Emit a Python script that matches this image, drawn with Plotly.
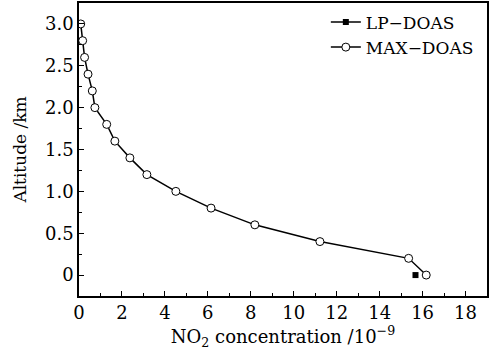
import plotly.graph_objects as go

max_x = [16.17, 15.35, 11.22, 8.19, 6.15, 4.51, 3.16, 2.37, 1.67, 1.29, 0.74, 0.62, 0.42, 0.26, 0.17, 0.08]
max_y = [0.0, 0.2, 0.4, 0.6, 0.8, 1.0, 1.2, 1.4, 1.6, 1.8, 2.0, 2.2, 2.4, 2.6, 2.8, 3.0]
lp_x = [15.67]
lp_y = [0.0]

FONT = "DejaVu Serif"

fig = go.Figure()
fig.add_trace(go.Scatter(x=lp_x, y=lp_y, mode="lines+markers", name="LP\u2212DOAS",
                         line=dict(color="black", width=1.5),
                         marker=dict(symbol="square", size=6, color="black")))
fig.add_trace(go.Scatter(x=max_x, y=max_y, mode="lines+markers", name="MAX\u2212DOAS",
                         line=dict(color="black", width=1.5),
                         marker=dict(symbol="circle", size=8, color="white",
                                     line=dict(color="black", width=1))))

fig.update_layout(
    width=498, height=351,
    margin=dict(l=79, r=11, t=3, b=55),
    paper_bgcolor="white", plot_bgcolor="white",
    font=dict(family=FONT, size=17, color="black"),
    showlegend=True,
    legend=dict(x=0.605, y=0.995, xanchor="left", yanchor="top",
                bgcolor="rgba(0,0,0,0)", font=dict(size=17, family=FONT),
                itemwidth=30, tracegroupgap=0),
    xaxis=dict(range=[0, 19], tickvals=[0, 2, 4, 6, 8, 10, 12, 14, 16, 18],
               ticks="inside", ticklen=5, tickwidth=1, tickcolor="black",
               minor=dict(tickvals=[1, 3, 5, 7, 9, 11, 13, 15, 17], ticks="inside",
                          ticklen=3, tickcolor="black"),
               showline=True, linecolor="black", linewidth=1.5, mirror=True,
               showgrid=False, zeroline=False, automargin=False,
               title=dict(text="NO<sub>2</sub> concentration /10<sup>\u22129</sup>",
                          font=dict(size=18), standoff=4),
               tickfont=dict(size=18)),
    yaxis=dict(range=[-0.25, 3.25], tickvals=[0, 0.5, 1.0, 1.5, 2.0, 2.5, 3.0],
               ticktext=["0", "0.5", "1.0", "1.5", "2.0", "2.5", "3.0"],
               ticks="inside", ticklen=5, tickwidth=1, tickcolor="black",
               minor=dict(tickvals=[0.25, 0.75, 1.25, 1.75, 2.25, 2.75], ticks="inside",
                          ticklen=3, tickcolor="black"),
               showline=True, linecolor="black", linewidth=1.5, mirror=True,
               showgrid=False, zeroline=False, automargin=False,
               title=dict(text="Altitude /km", font=dict(size=17), standoff=14),
               tickfont=dict(size=18)),
)

fig.write_html("out.html", config={"displayModeBar": False},
               post_script="document.body.style.margin='0px';")
